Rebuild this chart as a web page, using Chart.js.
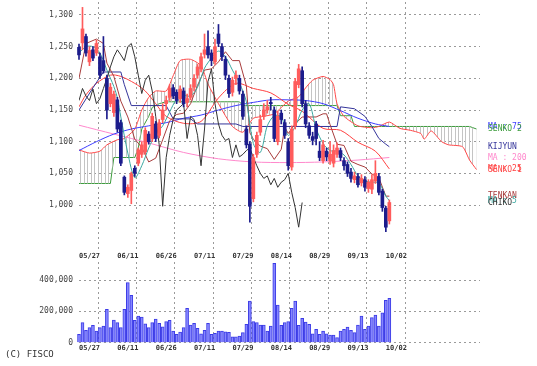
<!DOCTYPE html>
<html>
<head>
<meta charset="utf-8">
<script src="https://cdn.jsdelivr.net/npm/chart.js@4.4.1/dist/chart.umd.min.js"></script>
<style>
  body { margin: 0; background: #fff; width: 537px; height: 366px; overflow: hidden; position: relative; }
  #main { position: absolute; left: 0; top: 0; }
  #vol { position: absolute; left: 0; top: 250px; }
  #copy { position: absolute; left: 5px; top: 349px; font: 9px "DejaVu Sans Mono", monospace; color: #333; }
</style>
</head>
<body>
<canvas id="main" width="537" height="252"></canvas>
<canvas id="vol" width="537" height="116"></canvas>
<div id="copy">(C) FISCO</div>
<script>
// tick labels
const dateLabels = ['05/27', '06/11', '06/26', '07/11', '07/29', '08/14', '08/29', '09/13', '10/02'];
const dateIdx = [0, 11, 22, 33, 44, 55, 66, 77, 88];
const priceTicks = [1000, 1050, 1100, 1150, 1200, 1250, 1300];
const volTicks = [0, 200000, 400000];

// daily candles, 05/27 .. 10/03
const open = [1249,1256,1266,1226,1245,1240,1234,1228,1200,1160, 1146,1166,1130,1044,1018,1023,1058,1066,1080,1084,
  1112,1105,1128,1110,1135,1160,1170,1185,1178,1168, 1180,1162,1170,1186,1205,1215,1238,1250,1240,1226,
  1270,1250,1230,1200,1178,1200,1200,1175,1120,1096, 1010,1080,1115,1140,1150,1162,1150,1100,1145,1130,
  1100,1060,1125,1190,1212,1160,1125,1108,1128,1085, 1070,1085,1070,1066,1080,1086,1070,1064,1052,1040,
  1045,1035,1040,1026,1025,1038,1045,1022,995,975];
const high = [1254,1312,1270,1250,1250,1260,1240,1266,1205,1192, 1180,1170,1134,1046,1032,1052,1062,1090,1100,1122,
  1116,1145,1132,1135,1160,1172,1190,1190,1182,1188, 1185,1175,1190,1206,1222,1240,1270,1275,1245,1262,
  1285,1255,1235,1205,1202,1212,1205,1180,1125,1100, 1080,1115,1142,1160,1165,1170,1155,1148,1150,1135,
  1105,1125,1200,1222,1218,1165,1130,1115,1132,1100, 1102,1090,1100,1095,1098,1090,1075,1068,1058,1052,
  1050,1048,1045,1040,1048,1070,1050,1025,998,1008];
const low = [1230,1245,1235,1220,1228,1236,1200,1208,1136,1155, 1140,1115,1062,1016,1012,1002,1045,1062,1075,1080,
  1096,1100,1100,1106,1130,1150,1165,1168,1160,1162, 1155,1155,1166,1180,1200,1210,1232,1232,1220,1222,
  1250,1228,1198,1170,1172,1190,1175,1135,1090,973, 1005,1075,1110,1135,1145,1150,1100,1095,1128,1105,
  1055,1055,1120,1185,1155,1122,1105,1095,1095,1070, 1066,1070,1064,1060,1075,1070,1055,1045,1036,1035,
  1028,1030,1022,1020,1018,1034,1016,990,958,970];
const close = [1237,1278,1240,1244,1232,1255,1205,1212,1150,1186, 1175,1120,1066,1020,1028,1049,1050,1087,1095,1118,
  1100,1140,1105,1130,1150,1165,1184,1172,1165,1183, 1160,1168,1184,1200,1218,1234,1245,1237,1228,1250,
  1255,1234,1205,1176,1197,1205,1180,1140,1095,998, 1075,1110,1135,1150,1155,1160,1105,1140,1135,1110,
  1062,1120,1195,1215,1160,1128,1110,1102,1105,1075, 1095,1076,1080,1086,1090,1075,1062,1050,1042,1046,
  1032,1042,1028,1036,1040,1050,1020,996,965,1004];
const volume = [53000,128000,79000,96000,111000,74000,96000,106000,213000,96000,
  145000,128000,96000,213000,383000,302000,143000,170000,164000,121000,
  96000,128000,151000,123000,102000,134000,143000,74000,53000,68000,
  96000,219000,113000,123000,92000,57000,79000,123000,53000,60000,
  74000,74000,70000,66000,38000,38000,43000,64000,117000,266000,
  134000,128000,113000,113000,74000,106000,506000,240000,111000,128000,
  134000,219000,266000,111000,155000,132000,117000,57000,85000,53000,
  74000,57000,49000,49000,32000,74000,85000,100000,79000,64000,
  113000,170000,85000,106000,160000,177000,106000,191000,270000,283000];

// indicator lines, read at the bar positions given in the *X arrays
const ma5X = [0,2,4,6,8,10,11,12,14,16,18,20,22,24,26,28,30,32,34,36,38,40,42,44,46,48,50,52,54,56,58,60,62,64,66,68,70,72,74,76,78,80,82,84,86,88,89];
const ma5 = [1240,1250,1250,1240,1213,1187,1169,1139,1082,1043,1062,1090,1112,1125,1147,1167,1173,1172,1186,1216,1232,1243,1234,1213,1193,1163,1097,1083,1125,1141,1139,1110,1124,1150,1160,1121,1097,1086,1085,1079,1064,1046,1038,1036,1035,1014,1007];
const ma25X = [0,2,5,9,12,16,19,22,25,30,35,40,45,50,55,60,64,70,75,80,85,89];
const ma25 = [1155,1174,1192,1205,1203,1192,1180,1160,1140,1129,1132,1169,1192,1184,1177,1159,1148,1121,1118,1099,1085,1057];
const ma75X = [0,5,10,15,20,25,30,35,40,45,50,55,60,65,70,75,80,85,89];
const ma75 = [1086,1100,1112,1120,1125,1130,1137,1142,1150,1157,1162,1166,1166,1165,1160,1149,1137,1128,1124];
const ma200X = [0,10,20,30,40,50,60,70,80,89];
const ma200 = [1126,1112,1098,1083,1073,1068,1067,1068,1071,1075];
const tenkanX = [0,2,5,7,8,10,12,14,16,18,20,22,24,26,28,30,32,34,36,38,40,42,44,46,48,49,50,52,54,56,58,59,60,62,64,66,68,70,71,72,74,76,78,80,82,84,86,88,89];
const tenkan = [1200,1255,1262,1255,1224,1203,1164,1139,1104,1091,1068,1074,1103,1133,1143,1145,1160,1189,1213,1215,1226,1242,1228,1228,1188,1114,1104,1093,1089,1072,1088,1123,1113,1128,1139,1139,1139,1144,1144,1127,1096,1094,1069,1064,1060,1049,1043,1014,1014];
const kijunX = [0,4,7,12,13,15,25,27,32,34,45,47,66,68,74,75,79,82,84,86,88,89];
const kijun = [1150,1185,1210,1210,1190,1157,1157,1136,1136,1128,1128,1124,1124,1124,1124,1155,1152,1140,1124,1105,1096,1092];
const senkou1X = [0,3,6,8,11,13,16,18,20,22,25,27,29,32,35,37,40,44,47,50,53,56,60,63,65,67,70,72,73,74,76,80,84,86,89,92,95,98,99,101,104,106,110,112,114];
const senkou1 = [1087,1082,1085,1095,1103,1105,1120,1150,1170,1180,1180,1204,1228,1230,1220,1191,1160,1124,1115,1137,1140,1144,1164,1171,1185,1197,1203,1198,1190,1160,1140,1125,1122,1124,1131,1121,1118,1113,1104,1117,1100,1095,1092,1071,1056];
const senkou2X = [0,9,10,16,17,18,20,21,23,25,46,47,68,74,75,78,79,112,114];
const senkou2 = [1034,1034,1075,1075,1090,1120,1140,1154,1160,1163,1163,1157,1157,1157,1141,1141,1124,1124,1120];
const chikouShift = 25;

const seriesNames = ['MA : 75', 'SENKO 2', 'KIJYUN', 'MA : 200', 'MA : 25', 'SENKO 1', 'TENKAN', 'MA : 5', 'CHIKO'];
const seriesColors = ['#3c3cff', '#3c9c3c', '#34349a', '#ff88cc', '#ff4040', '#ff4848', '#a83c3c', '#3aa8a0', '#333333'];
const seriesLast = [ma75, senkou2, kijun, ma200, ma25, senkou1, tenkan, ma5, close].map(a => a[a.length - 1]);

const upColor = '#ff5c5c', downColor = '#1c1c8c';
const candleColor = close.map((c, i) => c >= open[i] ? upColor : downColor);
const bars = close.map((_, i) => i);
const pts = (xs, ys) => xs.map((x, k) => ({ x: x, y: ys[k] }));

// cloud hatching: thin light vertical strokes
function hatch() {
  const c = document.createElement('canvas');
  c.width = 7; c.height = 2;
  const g = c.getContext('2d');
  g.fillStyle = '#c4c4c4';
  g.fillRect(0, 0, 1, 2);
  g.fillRect(3, 0, 1, 2);
  return g.createPattern(c, 'repeat');
}

const monoFont = '"DejaVu Sans Mono", monospace';
const gridOpts = { color: '#9a9a9a', drawTicks: false };
const borderOpts = { display: false, dash: [2, 3] };

function line(data, color, tension) {
  return { type: 'line', data: data, borderColor: color, borderWidth: 1, pointRadius: 0, fill: false, tension: tension };
}

const xScale = {
  type: 'linear', min: 0, max: 115, offset: false,
  grid: gridOpts, border: borderOpts,
  ticks: { display: false },
  afterBuildTicks: s => { s.ticks = dateIdx.map(v => ({ value: v })); },
  afterFit: s => { s.height = 0; s.paddingLeft = 0; s.paddingRight = 0; }
};

function yFit(s) {
  s.width = 79;
  s.paddingTop = 0;
  s.paddingBottom = 0;
}

const rightLabels = {
  id: 'rightLabels',
  afterDraw(chart) {
    const ctx = chart.ctx, y = chart.scales.y;
    ctx.save();
    ctx.font = '8px ' + monoFont;
    ctx.textBaseline = 'middle';
    ctx.textAlign = 'left';
    seriesNames.forEach((n, k) => {
      ctx.fillStyle = seriesColors[k];
      ctx.fillText(n, 488, y.getPixelForValue(seriesLast[k]));
    });
    ctx.restore();
  }
};

new Chart(document.getElementById('main'), {
  type: 'bar',
  data: {
    datasets: [
      { type: 'bar', data: bars.map(i => ({ x: i, y: [open[i], close[i]] })), backgroundColor: candleColor, barThickness: 3, grouped: false, clip: false, minBarLength: 1 },
      { type: 'bar', data: bars.map(i => ({ x: i, y: [low[i], high[i]] })), backgroundColor: candleColor, barThickness: 1, grouped: false, clip: false },
      line(close.slice(chikouShift).map((v, k) => ({ x: k, y: v })), '#333333', 0),
      line(pts(ma5X, ma5), '#3aa8a0', 0.3),
      line(pts(tenkanX, tenkan), '#a83c3c', 0),
      line(pts(kijunX, kijun), '#34349a', 0),
      line(pts(ma25X, ma25), '#ff4040', 0.3),
      line(pts(ma75X, ma75), '#3c3cff', 0.3),
      line(pts(ma200X, ma200), '#ff88cc', 0.3),
      Object.assign(line(pts(senkou1X, senkou1), '#ff4848', 0.2), { fill: '+1', backgroundColor: hatch() }),
      line(pts(senkou2X, senkou2), '#3c9c3c', 0)
    ]
  },
  options: {
    responsive: false,
    animation: false,
    layout: { padding: { left: 0, right: 57, top: 2, bottom: 2 } },
    plugins: { legend: { display: false }, tooltip: { enabled: false } },
    scales: {
      x: xScale,
      y: {
        min: 929, max: 1320.5,
        grid: gridOpts, border: borderOpts,
        afterBuildTicks: s => { s.ticks = priceTicks.map(v => ({ value: v })); },
        afterFit: yFit,
        ticks: { padding: 6, color: '#444', font: { family: monoFont, size: 8 }, callback: v => v.toLocaleString('en-US') }
      }
    }
  },
  plugins: [rightLabels]
});

const dateRows = {
  id: 'dateRows',
  afterDraw(chart) {
    const ctx = chart.ctx, x = chart.scales.x;
    ctx.save();
    ctx.font = 'bold 7px ' + monoFont;
    ctx.fillStyle = '#333';
    ctx.textBaseline = 'middle';
    ctx.textAlign = 'left';
    dateIdx.forEach((v, k) => {
      const px = x.getPixelForValue(v);
      ctx.fillText(dateLabels[k], px, 6);
      ctx.fillText(dateLabels[k], px, 98);
    });
    ctx.restore();
  }
};

new Chart(document.getElementById('vol'), {
  type: 'bar',
  data: {
    datasets: [
      { data: bars.map(i => ({ x: i, y: volume[i] })), backgroundColor: '#8686ff', borderColor: '#3c3ce6', borderWidth: 1, barThickness: 3, clip: false }
    ]
  },
  options: {
    responsive: false,
    animation: false,
    layout: { padding: { left: 0, right: 57, top: 12, bottom: 23.3 } },
    plugins: { legend: { display: false }, tooltip: { enabled: false } },
    scales: {
      x: xScale,
      y: {
        min: 0, max: 515000,
        grid: gridOpts, border: borderOpts,
        afterBuildTicks: s => { s.ticks = volTicks.map(v => ({ value: v })); },
        afterFit: yFit,
        ticks: { padding: 6, color: '#444', font: { family: monoFont, size: 8 }, callback: v => v.toLocaleString('en-US') }
      }
    }
  },
  plugins: [dateRows]
});
</script>
</body>
</html>
